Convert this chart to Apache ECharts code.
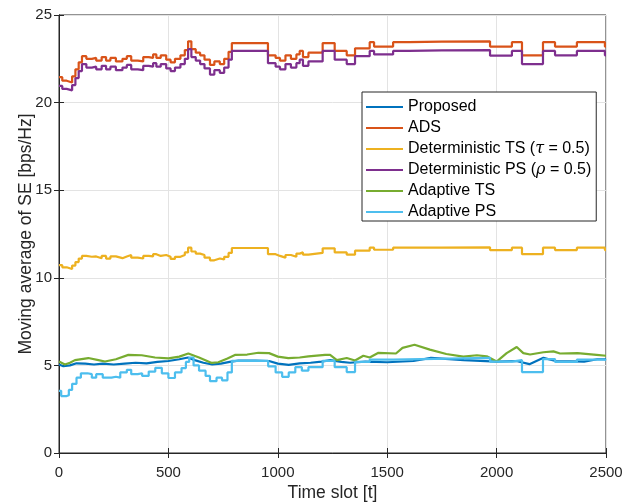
<!DOCTYPE html>
<html>
<head>
<meta charset="utf-8">
<script src="https://cdn.jsdelivr.net/npm/echarts@6/dist/echarts.min.js"></script>
<style>html,body{margin:0;padding:0;background:#fff;}#c{width:624px;height:502px;}</style>
</head>
<body>
<div id="c"></div>
<script>
// ---- data ----
const seriesNames = ['Proposed', 'ADS', 'Deterministic TS (τ = 0.5)', 'Deterministic PS (ρ = 0.5)', 'Adaptive TS', 'Adaptive PS'];

const proposedT = [0,20,50,80,120,160,200,250,300,350,400,450,500,550,590,620,660,700,740,780,820,900,960,1000,1050,1100,1150,1200,1240,1290,1330,1400,1500,1620,1700,1850,2000,2090,2150,2214,2270,2400,2460,2500];
const proposedV = [5.05,4.95,5.0,5.12,5.1,5.05,5.1,5.05,5.1,5.15,5.12,5.2,5.25,5.35,5.45,5.3,5.15,5.05,5.1,5.2,5.27,5.28,5.25,5.1,5.03,5.12,5.15,5.22,5.3,5.2,5.15,5.22,5.18,5.25,5.43,5.3,5.22,5.25,5.07,5.43,5.25,5.22,5.35,5.35];

const stepT = [0,15,35,60,75,90,105,125,150,170,195,215,235,260,290,310,330,360,385,410,430,445,465,490,510,530,555,575,590,605,625,645,665,690,710,735,755,775,790,955,990,1010,1035,1060,1085,1100,1115,1140,1205,1260,1315,1353,1420,1440,1527,1600,1750,1970,2070,2116,2212,2267,2367,2495,2500];
const adsV = [21.45,21.25,21.15,21.5,21.9,22.3,22.65,22.5,22.55,22.4,22.6,22.4,22.55,22.35,22.5,22.65,22.4,22.35,22.6,22.55,22.75,22.55,22.7,22.45,22.3,22.5,22.7,23.0,23.5,23.05,22.85,22.7,22.45,22.15,22.35,22.2,22.5,22.9,23.4,22.7,22.55,22.4,22.7,22.5,22.75,22.95,22.6,22.85,23.4,22.95,22.7,23.1,23.45,23.2,23.45,23.48,23.5,23.2,23.45,22.7,23.45,23.2,23.45,23.2,23.2];
const detTsV = [10.72,10.6,10.5,10.7,10.9,11.1,11.25,11.2,11.22,11.12,11.25,11.1,11.22,11.12,11.22,11.3,11.15,11.1,11.25,11.22,11.35,11.25,11.3,11.2,11.08,11.2,11.3,11.45,11.72,11.5,11.38,11.3,11.15,11.0,11.1,11.05,11.2,11.42,11.7,11.35,11.25,11.15,11.3,11.2,11.38,11.45,11.32,11.42,11.68,11.45,11.32,11.55,11.72,11.6,11.72,11.72,11.74,11.58,11.72,11.35,11.72,11.58,11.72,11.58,11.58];
const detPsV = [20.95,20.78,20.7,21.0,21.4,21.8,22.2,22.0,22.05,21.9,22.1,21.9,22.05,21.85,22.0,22.15,21.9,21.85,22.1,22.05,22.25,22.05,22.2,21.95,21.8,22.0,22.2,22.5,23.05,22.6,22.4,22.2,21.95,21.6,21.85,21.7,22.0,22.45,22.95,22.25,22.05,21.9,22.2,22.0,22.25,22.45,22.1,22.35,22.95,22.45,22.2,22.65,22.95,22.75,22.95,22.98,23.0,22.68,22.95,22.2,22.95,22.7,22.95,22.7,22.7];

const adTsT = [0,27,50,73,134,180,210,260,317,378,439,500,550,591,640,698,728,770,804,860,911,960,1000,1048,1100,1140,1216,1239,1270,1315,1353,1391,1420,1460,1540,1570,1625,1695,1770,1848,1910,1955,2000,2046,2092,2122,2153,2214,2260,2290,2370,2457,2500];
const adTsV = [5.22,5.05,5.15,5.3,5.42,5.3,5.22,5.35,5.6,5.58,5.45,5.4,5.5,5.68,5.45,5.14,5.18,5.4,5.6,5.62,5.72,5.7,5.5,5.42,5.45,5.52,5.6,5.6,5.3,5.42,5.28,5.55,5.45,5.72,5.68,6.0,6.18,5.9,5.65,5.5,5.58,5.52,5.22,5.7,6.05,5.7,5.62,5.75,5.8,5.68,5.7,5.6,5.55];

const adPsT = [0,10,35,45,60,80,100,130,150,170,200,240,260,280,310,330,360,380,410,440,470,500,530,560,580,595,615,640,670,690,720,745,770,790,956,990,1020,1050,1080,1110,1140,1205,1260,1315,1353,1420,1527,1970,2070,2116,2212,2267,2367,2495,2500];
const adPsV = [3.55,3.25,3.3,3.6,3.95,4.3,4.55,4.5,4.3,4.5,4.3,4.35,4.3,4.6,4.75,4.5,4.55,4.4,4.65,4.86,4.55,4.28,4.6,4.85,5.2,5.45,5.0,4.7,4.4,4.1,4.3,4.15,4.6,5.26,4.95,4.6,4.35,4.6,4.9,4.7,4.9,5.26,4.9,4.62,5.2,5.33,5.43,5.22,5.3,4.62,5.36,5.2,5.33,5.28,5.28];

const colors = ['#0072BD', '#D95319', '#EDB120', '#7E2F8E', '#77AC30', '#4DBEEE'];

// ---- chart ----
const FONT = "'Liberation Sans', Arial, Helvetica, sans-serif";
const TXT = '#262626';
const zip = (t, v) => t.map((x, i) => [x, v[i]]);

function mkSeries(name, t, v, color, step) {
  return {
    name: name, type: 'line', data: zip(t, v),
    step: step ? 'end' : false,
    symbol: 'none', showSymbol: false,
    lineStyle: { width: 2.2, color: color },
    itemStyle: { color: color },
    animation: false
  };
}

const chart = echarts.init(document.getElementById('c'), null, { renderer: 'canvas' });
const axisCommon = {
  axisLine: { show: true, lineStyle: { color: TXT, width: 1 } },
  axisTick: { show: true, inside: true, length: 5, lineStyle: { color: TXT } }
};
chart.setOption({
  animation: false,
  backgroundColor: '#fff',
  color: colors,
  grid: { left: 59, right: 18, top: 15, bottom: 49, show: true, borderColor: TXT, borderWidth: 1, backgroundColor: '#fff', containLabel: false, outerBoundsMode: 'none' },
  xAxis: [
    Object.assign({
      type: 'value', min: 0, max: 2500, interval: 500, position: 'bottom',
      axisLabel: { fontSize: 15, color: TXT, fontFamily: FONT, margin: 12, formatter: v => String(v) },
      splitLine: { show: true, lineStyle: { color: '#e3e3e3', width: 1 } },
      name: 'Time slot [t]', nameLocation: 'middle', nameGap: 31, nameMoveOverlap: false,
      nameTextStyle: { fontSize: 17.5, color: TXT, fontFamily: FONT }
    }, axisCommon),
    Object.assign({
      type: 'value', min: 0, max: 2500, interval: 500, position: 'top',
      axisLabel: { show: false }, splitLine: { show: false }
    }, axisCommon)
  ],
  yAxis: [
    Object.assign({
      type: 'value', min: 0, max: 25, interval: 5, position: 'left',
      axisLabel: { fontSize: 15, color: TXT, fontFamily: FONT, margin: 7, formatter: v => String(v) },
      splitLine: { show: true, lineStyle: { color: '#e3e3e3', width: 1 } },
      name: 'Moving average of SE [bps/Hz]', nameLocation: 'middle', nameGap: 24, nameMoveOverlap: false,
      nameTextStyle: { fontSize: 17.5, color: TXT, fontFamily: FONT }
    }, axisCommon),
    Object.assign({
      type: 'value', min: 0, max: 25, interval: 5, position: 'right',
      axisLabel: { show: false }, splitLine: { show: false }
    }, axisCommon)
  ],
  legend: {
    orient: 'vertical', left: 362, top: 92,
    icon: 'rect', itemWidth: 37, itemHeight: 2.2, itemGap: 5,
    padding: [7, 5, 1, 4],
    borderColor: TXT, borderWidth: 1, backgroundColor: '#fff',
    data: seriesNames,
    formatter: function (n) { return n.replace(/([τρ])/g, '{g|$1}'); },
    textStyle: {
      fontSize: 16, color: '#000', fontFamily: FONT,
      rich: { g: { fontSize: 16, color: '#000', fontStyle: 'italic', fontFamily: "'DejaVu Serif', 'Liberation Serif', serif" } }
    }
  },
  series: [
    mkSeries(seriesNames[0], proposedT, proposedV, colors[0], false),
    mkSeries(seriesNames[1], stepT, adsV, colors[1], true),
    mkSeries(seriesNames[2], stepT, detTsV, colors[2], true),
    mkSeries(seriesNames[3], stepT, detPsV, colors[3], true),
    mkSeries(seriesNames[4], adTsT, adTsV, colors[4], false),
    mkSeries(seriesNames[5], adPsT, adPsV, colors[5], true)
  ]
});
</script>
</body>
</html>
